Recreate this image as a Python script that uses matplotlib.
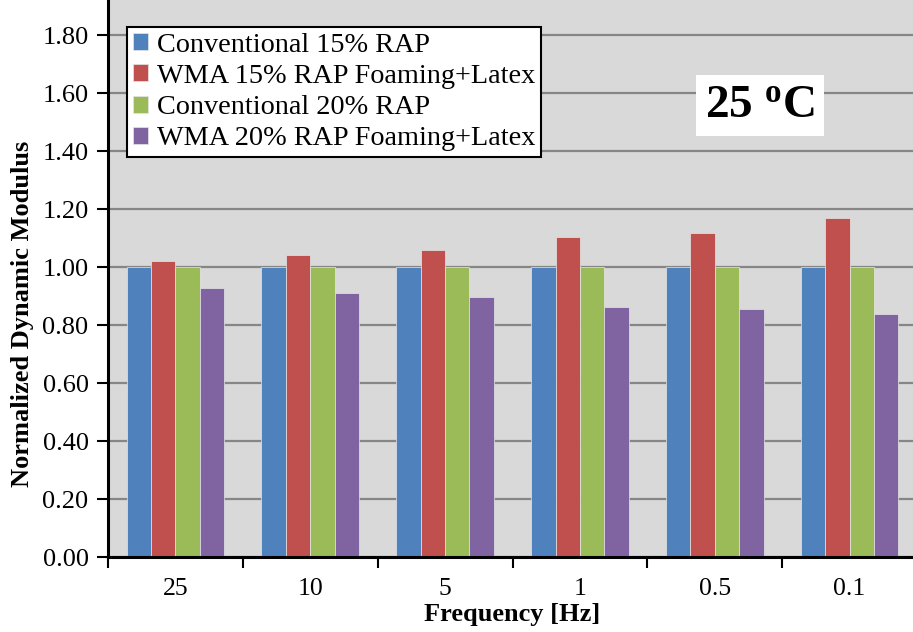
import matplotlib.pyplot as plt
import numpy as np

plt.rcParams['font.family'] = ['Liberation Serif', 'DejaVu Serif']
plt.rcParams['mathtext.fontset'] = 'custom'
plt.rcParams['mathtext.bf'] = 'Liberation Serif:bold'
plt.rcParams['mathtext.rm'] = 'Liberation Serif:bold'

# Data
frequencies = ['25', '10', '5', '1', '0.5', '0.1']
series_names = ['Conventional 15% RAP', 'WMA 15% RAP Foaming+Latex',
                'Conventional 20% RAP', 'WMA 20% RAP Foaming+Latex']
conv_15 = [1.00, 1.00, 1.00, 1.00, 1.00, 1.00]
wma_15 = [1.020, 1.040, 1.058, 1.102, 1.116, 1.168]
conv_20 = [1.00, 1.00, 1.00, 1.00, 1.00, 1.00]
wma_20 = [0.928, 0.910, 0.898, 0.863, 0.854, 0.838]
y_ticks = [0.0, 0.2, 0.4, 0.6, 0.8, 1.0, 1.2, 1.4, 1.6, 1.8]

colors = ['#4F81BD', '#C0504D', '#9BBB59', '#8064A2']

fig = plt.figure(figsize=(9.13, 6.32), dpi=100)
ax = fig.add_axes([108 / 913, 75 / 632, 809 / 913, 557 / 632])
ax.set_facecolor('#D9D9D9')

x = np.arange(len(frequencies))
bw = 0.181
all_series = [conv_15, wma_15, conv_20, wma_20]
for i, vals in enumerate(all_series):
    ax.bar(x + (i - 1.5) * bw, vals, width=bw, color=colors[i],
           edgecolor='#E6E6E6', linewidth=0.5, label=series_names[i], zorder=2)

ax.set_xlim(-0.5, len(frequencies) - 0.5)
ax.set_ylim(0, 1.921)
ax.set_yticks(y_ticks)
ax.set_yticklabels(['%.2f' % v for v in y_ticks], fontsize=19)
ax.yaxis.grid(True, color='#868686', linewidth=1.6, zorder=1)
ax.set_axisbelow(True)

ax.set_xticks(x)
ax.set_xticklabels(frequencies, fontsize=18.5)
ax.set_xticks(np.arange(len(frequencies) + 1) - 0.5, minor=True)
ax.tick_params(axis='x', which='major', length=0, pad=15)
ax.tick_params(axis='x', which='minor', length=8, width=1.5, direction='out')
ax.tick_params(axis='y', length=8, width=1.5, direction='out', pad=6)

for s in ['top', 'right']:
    ax.spines[s].set_visible(False)
for s in ['left', 'bottom']:
    ax.spines[s].set_linewidth(2.2)
    ax.spines[s].set_zorder(3)

ax.set_xlabel('Frequency [Hz]', fontsize=19, fontweight='bold', va='center')
ax.xaxis.set_label_coords(0.5, -58 / 557)
ax.set_ylabel('Normalized Dynamic Modulus', fontsize=19, fontweight='bold', va='center')
ax.yaxis.set_label_coords(-85 / 809, (557 - 314) / 557)

leg = ax.legend(loc='upper left', bbox_to_anchor=(19 / 809, 530 / 557), fontsize=20.3,
                frameon=True, fancybox=False, edgecolor='black', framealpha=1,
                handlelength=0.55, handleheight=0.55, handletextpad=0.3,
                labelspacing=0.22, borderpad=0.2, borderaxespad=0)
leg.get_frame().set_linewidth(1.5)

ax.text(0.806, 0.81, r'25 $\mathbf{^o}$C', transform=ax.transAxes,
        fontsize=34, fontweight='bold', ha='center', va='center',
        bbox=dict(facecolor='white', edgecolor='none', boxstyle='square,pad=0.2'),
        zorder=5)

fig.savefig('out.png', dpi=100)
